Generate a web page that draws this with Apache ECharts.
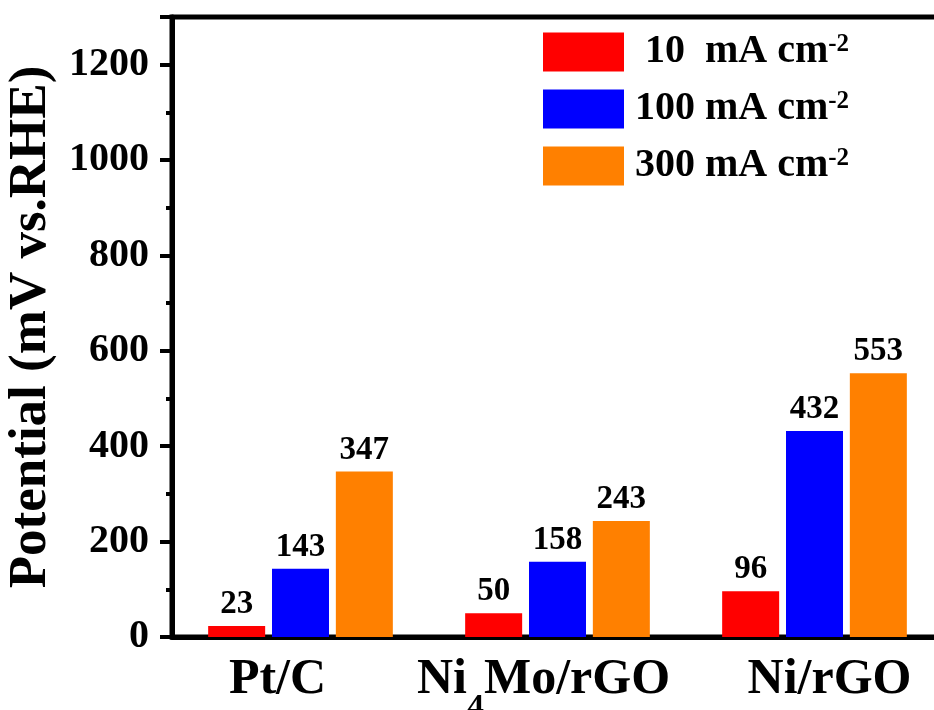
<!DOCTYPE html>
<html>
<head>
<meta charset="utf-8">
<script src="https://cdn.jsdelivr.net/npm/echarts@6/dist/echarts.min.js"></script>
<style>
html,body{margin:0;padding:0;background:#fff;}
#chart{width:934px;height:710px;}
</style>
</head>
<body>
<div id="chart"></div>
<script>
var categories = ['Pt/C', 'Ni4Mo/rGO', 'Ni/rGO'];
var seriesNames = [' 10  mA cm', '100 mA cm', '300 mA cm'];
var values10 = [23, 50, 96];
var values100 = [143, 158, 432];
var values300 = [347, 243, 553];
var yTicks = [0, 200, 400, 600, 800, 1000, 1200];

var FONT = "'Liberation Serif', 'Times New Roman', serif";
var colors = ['#ff0000', '#0000ff', '#ff8000'];
var seriesValues = [values10, values100, values300];
// horizontal nudges of the category labels (style only)
var labelPads = [[0, 46, 0, 0], [0, 28, 0, 0], [0, 0, 0, 30]];

var chart = echarts.init(document.getElementById('chart'));

function catLabel(v) {
  var m = v.match(/^(Ni)(\d)(.*)$/);
  if (m) return '{a|' + m[1] + '}{s|' + m[2] + '}{a|' + m[3] + '}';
  return '{a|' + v + '}';
}

var option = {
  backgroundColor: '#fff',
  animation: false,
  grid: {
    left: 172, top: 17, width: 771, height: 620,
    show: true, borderColor: '#000', borderWidth: 5,
    containLabel: false, outerBoundsMode: 'none'
  },
  legend: {
    orient: 'vertical',
    left: 543, top: 32,
    padding: 0,
    itemWidth: 81, itemHeight: 39, itemGap: 17,
    icon: 'rect',
    selectedMode: false,
    formatter: function (name) { return '{a|' + name + '}{s|-2}'; },
    textStyle: {
      padding: [0, 0, 0, 6],
      rich: {
        a: { fontFamily: FONT, fontWeight: 'bold', fontSize: 40, color: '#000', lineHeight: 40 },
        s: { fontFamily: FONT, fontWeight: 'bold', fontSize: 25, color: '#000', lineHeight: 20, verticalAlign: 'top' }
      }
    },
    data: seriesNames
  },
  xAxis: {
    type: 'category',
    data: categories.map(function (c, i) {
      return { value: c, textStyle: { padding: labelPads[i] } };
    }),
    axisLine: { lineStyle: { color: '#000', width: 5 } },
    axisTick: { show: false },
    axisLabel: {
      margin: -2,
      formatter: catLabel,
      rich: {
        a: { fontFamily: FONT, fontWeight: 'bold', fontSize: 50, color: '#000', lineHeight: 90 },
        s: { fontFamily: FONT, fontWeight: 'bold', fontSize: 34, color: '#000', lineHeight: 42, verticalAlign: 'bottom' }
      }
    }
  },
  yAxis: {
    type: 'value',
    min: 0, max: 1300, interval: 200,
    name: 'Potential (mV vs.RHE)',
    nameLocation: 'middle',
    nameRotate: 90,
    nameGap: 114,
    nameTextStyle: { fontFamily: FONT, fontWeight: 'bold', fontSize: 53, color: '#000' },
    axisLine: { show: true, lineStyle: { color: '#000', width: 5 } },
    axisTick: { show: true, inside: false, length: 12, lineStyle: { color: '#000', width: 4 } },
    minorTick: { show: true, splitNumber: 2, length: 6, lineStyle: { color: '#000', width: 4 } },
    splitLine: { show: false },
    axisLabel: {
      margin: 23,
      fontFamily: FONT, fontWeight: 'bold', fontSize: 40, color: '#000',
      formatter: function (v) { return yTicks.indexOf(v) >= 0 ? String(v) : ''; }
    }
  },
  series: seriesNames.map(function (n, i) {
    return {
      name: n,
      type: 'bar',
      data: seriesValues[i],
      barWidth: 57,
      barGap: '12%',
      itemStyle: { color: colors[i] },
      label: {
        show: true, position: 'top', distance: 5,
        fontFamily: FONT, fontWeight: 'bold', fontSize: 33, color: '#000'
      }
    };
  })
};
chart.setOption(option);
</script>
</body>
</html>
